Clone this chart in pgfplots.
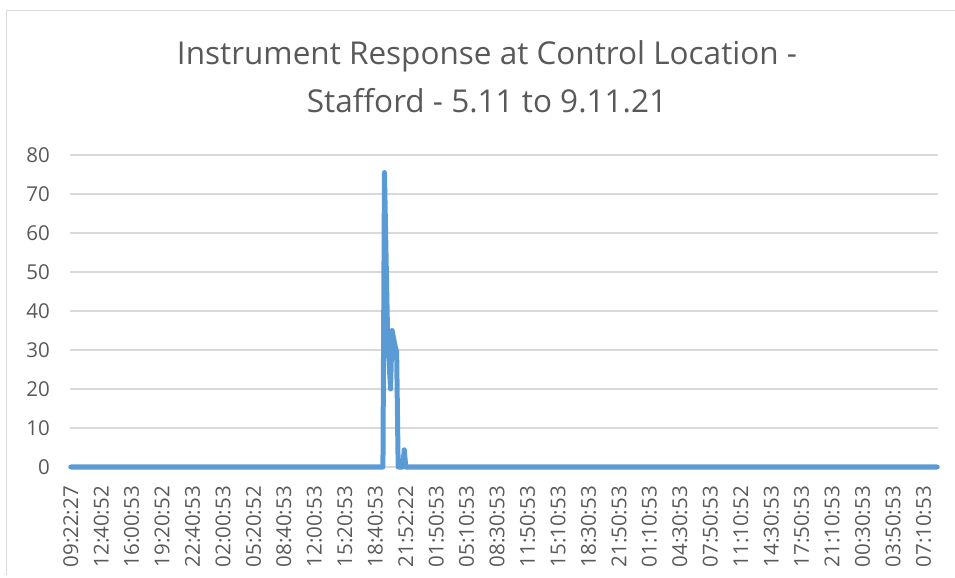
\documentclass[border=0pt]{standalone}
\usepackage{pgfplots}
\pgfplotsset{compat=1.18}
\usepackage{fontspec}
\setmainfont{Open Sans}
\definecolor{excelblue}{HTML}{5B9BD5}
\definecolor{txtgray}{HTML}{595959}
\definecolor{gridgray}{HTML}{D9D9D9}
\begin{document}
\begin{tikzpicture}
\path[use as bounding box] (0,0) rectangle (955bp,578bp);
\draw[gridgray, line width=1.3bp] (6.5bp,3bp) -- (6.5bp,567.5bp) -- (955bp,567.5bp);
\node[txtgray, font=\fontsize{31.5bp}{36bp}\selectfont] at (487bp,522bp) {Instrument Response at Control Location -};
\node[txtgray, font=\fontsize{31.5bp}{36bp}\selectfont] at (487bp,477bp) {Stafford - 5.11 to 9.11.21};
\begin{axis}[
  at={(70bp,111bp)}, anchor=south west,
  scale only axis, width=868bp, height=312bp,
  xmin=-0.5, xmax=569.5, ymin=0, ymax=80,
  ytick={0,10,...,80},
  xtick={0,20,...,560},
  xticklabels={09:22:27,12:40:52,16:00:53,19:20:52,22:40:53,02:00:53,05:20:52,08:40:53,12:00:53,15:20:53,18:40:53,21:52:22,01:50:53,05:10:53,08:30:53,11:50:53,15:10:53,18:30:53,21:50:53,01:10:53,04:30:53,07:50:53,11:10:52,14:30:53,17:50:53,21:10:53,00:30:53,03:50:53,07:10:53},
  /pgf/number format/assume math mode=true,
  ticklabel style={font=\fontsize{20.5bp}{24bp}\selectfont, text=txtgray},
  xticklabel style={rotate=90, anchor=east, inner sep=0pt},
  xticklabel shift=19bp,
  yticklabel style={anchor=east, inner sep=0pt},
  yticklabel shift=20bp,
  axis line style={draw=none},
  tick style={draw=none},
  ymajorgrids, grid style={gridgray, line width=1.3bp},
  clip=false,
]
\addplot[color=excelblue, line width=5bp, line join=round, line cap=round] coordinates {
(0,0)(204,0)(205,0)(206,75.5)(207,55)(208,35)(209,27)(210,20)(211,35)(212,33)(213,31)(214,29.5)(215,0)(216,0)(217,0)(218,0)(219,4.4)(220,0)(569,0)};
\end{axis}
\end{tikzpicture}
\end{document}
